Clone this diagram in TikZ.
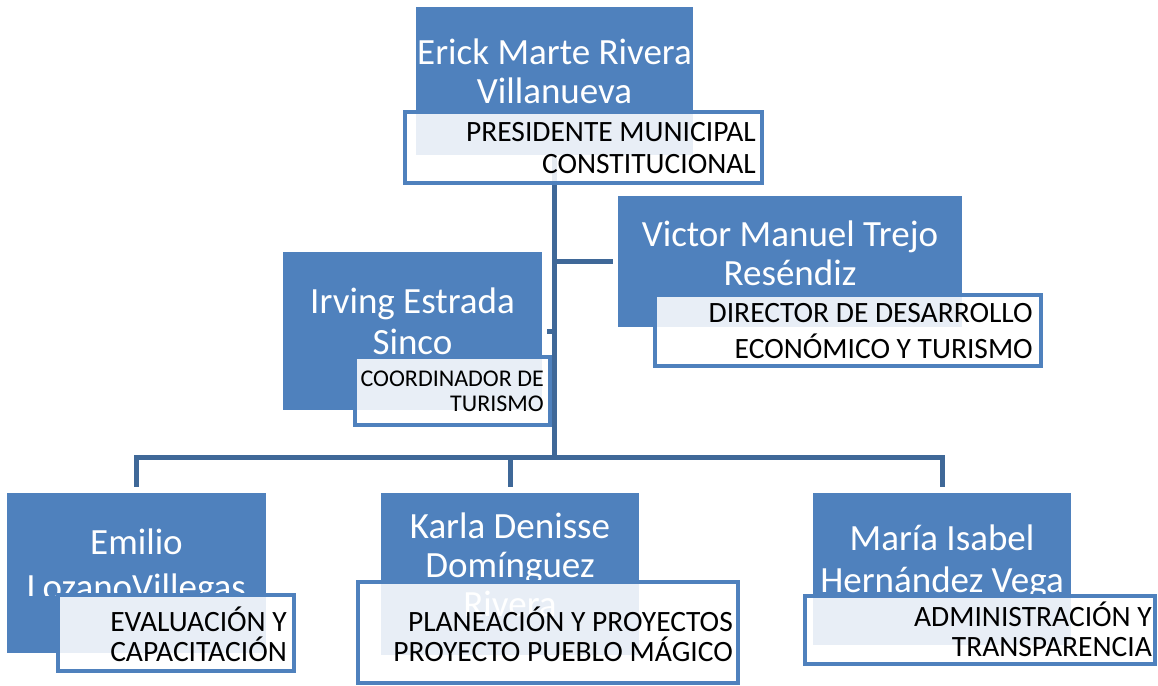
\documentclass[tikz,border=0pt]{standalone}
\usepackage{fontspec}
\setmainfont{Carlito}
\usetikzlibrary{fit}
\definecolor{boxblue}{RGB}{79,129,189}
\definecolor{connblue}{RGB}{63,104,152}
\tikzset{
  bluebox/.style={rectangle, fill=boxblue, draw=none, inner sep=0pt},
  labelbox/.style={rectangle, fill=white, fill opacity=0.87, draw=boxblue, draw opacity=1, line width=4pt, inner sep=0pt},
  nametext/.style={text=white, align=center, inner sep=0pt, font=\fontsize{37}{39}\selectfont},
  roletext/.style={text=black, align=right, inner sep=0pt, anchor=east, font=\fontsize{29.5}{32}\selectfont},
  conn/.style={draw=connblue, line width=5pt},
}
\begin{document}
\begin{tikzpicture}[x=1pt, y=-1pt]
\useasboundingbox (0,0) rectangle (1158,685);
% geometry of boxes (used by connectors)
\node[bluebox, fit={(416,7)(693,155)}] (b1) {};
\node[bluebox, fit={(618,196)(962,327)}] (b2) {};
\node[bluebox, fit={(283,252)(542,410)}] (b3) {};
\node[bluebox, fit={(7,493)(266,653)}] (b4) {};
\node[bluebox, fit={(381,493)(639,655)}] (b5) {};
\node[bluebox, fit={(813,493)(1071,645)}] (b6) {};
\coordinate (j1) at (554.5,457);
% connectors
\draw[conn] (b1.south) -- (j1);
\draw[conn] (b2.west -| b1.south) -- ([xshift=-5pt]b2.west);
\draw[conn] ([xshift=5pt]b3.east) -- (b3.east -| b1.south);
\draw[conn] ([yshift=6pt]b4.north) |- (j1) -| ([yshift=6pt]b6.north);
\draw[conn] (j1 -| b5.north) -- ([yshift=6pt]b5.north);
% --- top
\node[nametext] (n1) at (554.5,71) {Erick Marte Rivera\\Villanueva};
\node[labelbox, fit={(405,112)(762,183)}] (l1) {};
\node[roletext] (r1) at (756,148) {PRESIDENTE MUNICIPAL\\CONSTITUCIONAL};
% --- Victor
\node[nametext] (n2) at (790,253) {Victor Manuel Trejo\\Reséndiz};
\node[labelbox, fit={(655,295)(1041,366)}] (l2) {};
\node[roletext, font=\fontsize{29.5}{36}\selectfont] (r2) at (1033,331) {DIRECTOR DE DESARROLLO\\ECONÓMICO Y TURISMO};
% --- Irving
\node[nametext, font=\fontsize{37}{41}\selectfont] (n3) at (412.5,321) {Irving Estrada\\Sinco};
\node[labelbox, fit={(355,357)(550,425)}] (l3) {};
\node[roletext, font=\fontsize{24}{25}\selectfont] (r3) at (544,391) {COORDINADOR DE\\TURISMO};
% --- Emilio
\begin{scope}
\clip (7,493) rectangle (266,595);
\node[nametext, font=\fontsize{37}{45}\selectfont] (n4) at (136.5,567) {Emilio\\LozanoVillegas};
\end{scope}
\node[labelbox, fit={(58,595)(294,671)}] (l4) {};
\node[roletext, font=\fontsize{29.5}{30}\selectfont] (r4) at (287,634) {EVALUACIÓN Y\\CAPACITACIÓN};
% --- Karla
\node[nametext, font=\fontsize{37}{39}\selectfont] (n5) at (510,565) {Karla Denisse\\Domínguez\\Rivera};
\node[labelbox, fit={(358,582)(738,683)}] (l5) {};
\node[roletext, font=\fontsize{29.5}{30}\selectfont] (r5) at (733,634) {PLANEACIÓN Y PROYECTOS\\PROYECTO PUEBLO MÁGICO};
% --- María
\node[nametext, font=\fontsize{37}{42}\selectfont] (n6) at (942,562) {María Isabel\\Hernández Vega};
\node[labelbox, fit={(805,596)(1155,664)}] (l6) {};
\node[roletext, font=\fontsize{29.5}{30}\selectfont] (r6) at (1152,629) {ADMINISTRACIÓN Y\\TRANSPARENCIA};
\end{tikzpicture}
\end{document}
